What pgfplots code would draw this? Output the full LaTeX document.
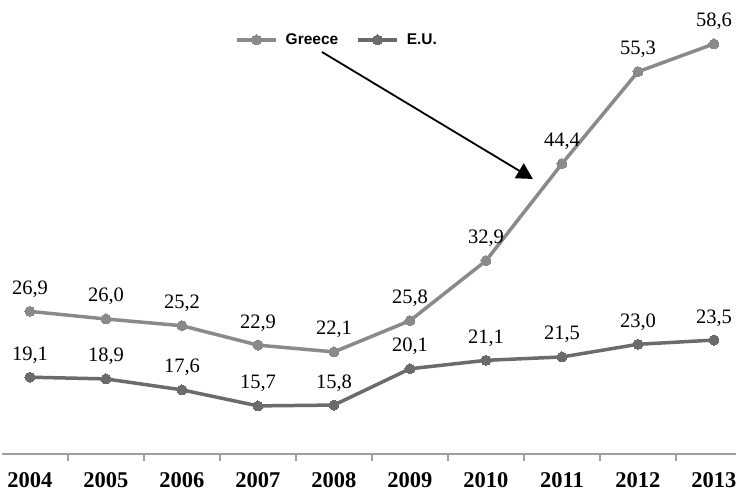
\documentclass[border=0pt]{standalone}
\usepackage{pgfplots}
\pgfplotsset{compat=1.18}
\usepackage{pgfplotstable}
\usepackage{fontspec}
\setmainfont{Liberation Serif}
\newfontfamily\legendfont{Liberation Sans}
\usetikzlibrary{arrows.meta}

\definecolor{greececol}{HTML}{8A8A8A}
\definecolor{eucol}{HTML}{6B6B6B}
\definecolor{axiscol}{HTML}{A0A0A0}

% unemployment rate (%), 2004-2013, years at positions 0..9
\pgfplotstableread{
pos greece eu
0 26.9 19.1
1 26.0 18.9
2 25.2 17.6
3 22.9 15.7
4 22.1 15.8
5 25.8 20.1
6 32.9 21.1
7 44.4 21.5
8 55.3 23.0
9 58.6 23.5
}\rates

\begin{document}
\begin{tikzpicture}
\begin{axis}[
  scale only axis,
  width=734pt, height=454pt,
  xmin=-0.368, xmax=9.29,
  ymin=10, ymax=63.8,
  axis x line*=bottom,
  axis y line=none,
  x axis line style={axiscol, line width=1.5pt, -},
  xtick={0,...,9},
  xticklabels={2004,2005,2006,2007,2008,2009,2010,2011,2012,2013},
  major x tick style={draw=none},
  minor xtick={0.5,1.5,...,8.5},
  minor tick length=7pt,
  tick align=outside,
  minor x tick style={axiscol, line width=1.2pt},
  xticklabel style={font=\fontsize{22.5}{22.5}\selectfont\bfseries, inner sep=0pt, anchor=north, yshift=-14pt},
  clip=false,
  nodes near coords,
  every node near coord/.style={font=\fontsize{20.5}{20.5}\selectfont, anchor=base, inner sep=0pt, yshift=17pt, text=black},
  /pgf/number format/.cd, fixed, fixed zerofill, precision=1, use comma, assume math mode=true,
  /pgfplots/.cd,
  legend style={draw=none, fill=none, at={(0.3134,0.9119)}, anchor=west,
    legend columns=2,
    font=\legendfont\fontsize{15.5}{15.5}\selectfont\bfseries,
    /tikz/every odd column/.append style={column sep=6pt},
    /tikz/every even column/.append style={column sep=16pt}},
  legend image code/.code={\draw[mark repeat=2, mark phase=2] plot coordinates {(0pt,0pt) (19.5pt,0pt) (39pt,0pt)};},
]
\addplot[greececol, line width=3.5pt, mark=*, mark size=5pt,
  mark options={fill=greececol, draw=greececol, line width=0pt}]
  table[x=pos, y=greece] {\rates};
\addlegendentry{Greece}
\addplot[eucol, line width=3.5pt, mark=*, mark size=5pt,
  mark options={fill=eucol, draw=eucol, line width=0pt}]
  table[x=pos, y=eu] {\rates};
\addlegendentry{E.U.}

% pointer from the legend to the steep rise of the Greek series
\draw[black, line width=1.8pt, -{Triangle[length=16pt, width=17pt]}]
  (axis cs:3.842,57.64) -- (axis cs:6.618,42.59);

\coordinate (bl) at (rel axis cs:0,0);
\coordinate (tr) at (rel axis cs:1,1);
\end{axis}
\pgfresetboundingbox
\path[use as bounding box] (bl) ++(-2pt,-37pt) rectangle (tr);
\end{tikzpicture}
\end{document}
